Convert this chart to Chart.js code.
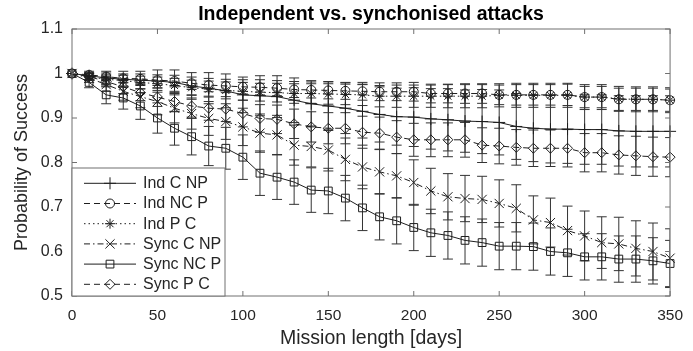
<!DOCTYPE html>
<html>
<head>
<meta charset="utf-8">
<script src="https://cdn.jsdelivr.net/npm/chart.js@4.4.1/dist/chart.umd.min.js"></script>
<style>
  html, body { margin: 0; padding: 0; background: #fff; }
  #wrap { width: 693px; height: 351px; }
</style>
</head>
<body>
<div id="wrap"><canvas id="chart" width="693" height="351"></canvas></div>
<script>
// mission length [days], one sample every 10 days
const days = [0, 10, 20, 30, 40, 50, 60, 70, 80, 90, 100, 110, 120, 130, 140, 150, 160, 170,
              180, 190, 200, 210, 220, 230, 240, 250, 260, 270, 280, 290, 300, 310, 320, 330, 340, 350];

const xTicks = [0, 50, 100, 150, 200, 250, 300, 350];
const yTicks = [0.5, 0.6, 0.7, 0.8, 0.9, 1.0, 1.1];

// probability of success
const indCNP = [1.000, 0.995, 0.990, 0.987, 0.985, 0.983, 0.980, 0.972, 0.967, 0.961, 0.952, 0.950,
                0.948, 0.940, 0.932, 0.927, 0.922, 0.915, 0.908, 0.903, 0.902, 0.898, 0.896, 0.893,
                0.892, 0.890, 0.881, 0.877, 0.875, 0.875, 0.874, 0.874, 0.871, 0.870, 0.870, 0.870];
const indNCP = [1.000, 0.997, 0.993, 0.989, 0.988, 0.985, 0.983, 0.978, 0.974, 0.972, 0.970, 0.969,
                0.967, 0.964, 0.963, 0.962, 0.961, 0.960, 0.959, 0.959, 0.959, 0.955, 0.955, 0.955,
                0.955, 0.952, 0.952, 0.952, 0.952, 0.952, 0.947, 0.947, 0.942, 0.942, 0.942, 0.940];
const indPC = [1.000, 0.993, 0.987, 0.984, 0.980, 0.977, 0.973, 0.968, 0.965, 0.962, 0.960, 0.958,
               0.957, 0.955, 0.955, 0.954, 0.953, 0.952, 0.949, 0.949, 0.949, 0.949, 0.949, 0.949,
               0.949, 0.951, 0.951, 0.951, 0.951, 0.951, 0.947, 0.947, 0.943, 0.942, 0.942, 0.940];
const syncCNP = [1.000, 0.990, 0.975, 0.960, 0.948, 0.937, 0.922, 0.910, 0.899, 0.892, 0.880, 0.866,
                 0.862, 0.839, 0.836, 0.828, 0.807, 0.790, 0.779, 0.770, 0.755, 0.736, 0.723, 0.719,
                 0.717, 0.708, 0.697, 0.671, 0.665, 0.647, 0.635, 0.620, 0.617, 0.607, 0.600, 0.585];
const syncNCP = [1.000, 0.980, 0.952, 0.945, 0.927, 0.900, 0.877, 0.858, 0.837, 0.832, 0.812, 0.776,
                 0.767, 0.756, 0.738, 0.736, 0.720, 0.698, 0.678, 0.669, 0.654, 0.642, 0.636, 0.625,
                 0.620, 0.612, 0.612, 0.611, 0.600, 0.597, 0.588, 0.588, 0.583, 0.583, 0.579, 0.573];
const syncPC = [1.000, 0.993, 0.982, 0.970, 0.957, 0.947, 0.937, 0.927, 0.922, 0.920, 0.910, 0.899,
                0.897, 0.887, 0.880, 0.877, 0.877, 0.868, 0.866, 0.857, 0.851, 0.851, 0.851, 0.851,
                0.839, 0.837, 0.834, 0.832, 0.832, 0.832, 0.822, 0.822, 0.817, 0.815, 0.813, 0.812];

// error bar half widths
const errIndCNP = [0, .010, .015, .018, .020, .025, .028, .030, .035, .038, .040, .045, .047, .050, .052, .055, .057, .060,
                   .062, .064, .066, .068, .070, .070, .072, .073, .074, .075, .076, .077, .078, .078, .079, .080, .080, .080];
const errIndNCP = [0, .005, .008, .010, .011, .012, .013, .014, .015, .015, .016, .017, .017, .018, .018, .019, .019, .020,
                   .020, .020, .021, .021, .021, .022, .022, .022, .023, .023, .023, .024, .024, .024, .025, .025, .025, .025];
const errIndPC = [0, .007, .010, .012, .014, .015, .016, .017, .018, .019, .020, .020, .021, .022, .022, .023, .023, .024,
                  .024, .025, .025, .025, .026, .026, .026, .026, .027, .027, .027, .027, .028, .028, .028, .028, .028, .028];
const errSyncCNP = [0, .010, .015, .020, .025, .030, .033, .035, .038, .040, .042, .043, .044, .045, .046, .047, .048, .049,
                    .050, .050, .051, .051, .052, .052, .052, .053, .053, .054, .055, .055, .056, .058, .060, .062, .064, .066];
const errSyncNCP = [0, .012, .020, .025, .030, .034, .038, .041, .044, .047, .050, .050, .050, .050, .050, .051, .051, .051,
                    .052, .052, .052, .053, .053, .053, .053, .053, .053, .053, .053, .053, .052, .052, .052, .052, .052, .052];
const errSyncPC = [0, .008, .012, .015, .018, .021, .023, .025, .027, .028, .030, .031, .032, .033, .034, .035, .035, .036,
                   .036, .037, .037, .038, .038, .039, .039, .040, .040, .041, .041, .042, .043, .043, .043, .044, .044, .044];

const FONT = "'Liberation Sans', Arial, Helvetica, sans-serif";
const INK = '#1e1e1e';
const AXIS = '#707070';
const CAP = 5;

function series(label, values, err, style, radius, dash) {
  return {
    label: label,
    data: days.map((d, i) => ({ x: d, y: values[i] })),
    err: err,
    borderColor: INK,
    backgroundColor: 'rgba(0,0,0,0)',
    pointBorderColor: INK,
    pointBackgroundColor: 'rgba(0,0,0,0)',
    borderWidth: 1,
    pointBorderWidth: 1,
    pointStyle: style,
    pointRadius: radius,
    borderDash: dash,
    tension: 0,
    fill: false,
    clip: false
  };
}

// small marker painter for the legend, same geometry as Chart.js point styles
function marker(ctx, style, x, y, r) {
  const d = r * Math.SQRT1_2;
  ctx.beginPath();
  if (style === 'circle') {
    ctx.arc(x, y, r, 0, Math.PI * 2);
  } else if (style === 'rect') {
    ctx.rect(x - d, y - d, 2 * d, 2 * d);
  } else if (style === 'rectRot') {
    ctx.moveTo(x, y - r); ctx.lineTo(x + r, y); ctx.lineTo(x, y + r); ctx.lineTo(x - r, y); ctx.closePath();
  } else {
    if (style === 'cross' || style === 'star') {
      ctx.moveTo(x, y - r); ctx.lineTo(x, y + r);
      ctx.moveTo(x - r, y); ctx.lineTo(x + r, y);
    }
    if (style === 'crossRot' || style === 'star') {
      ctx.moveTo(x - d, y - d); ctx.lineTo(x + d, y + d);
      ctx.moveTo(x + d, y - d); ctx.lineTo(x - d, y + d);
    }
  }
  ctx.stroke();
}

const decor = {
  id: 'decor',
  beforeDatasetsDraw(chart) {
    const { ctx, chartArea: a, scales: { x, y } } = chart;
    ctx.save();
    ctx.beginPath();
    ctx.rect(a.left, a.top, a.right - a.left, a.bottom - a.top);
    ctx.clip();
    ctx.strokeStyle = '#333';
    ctx.lineWidth = 1;
    chart.data.datasets.forEach(ds => {
      ds.data.forEach((p, j) => {
        const e = ds.err[j];
        if (!e) return;
        const px = x.getPixelForValue(p.x);
        const t = y.getPixelForValue(p.y + e);
        const b = y.getPixelForValue(p.y - e);
        ctx.beginPath();
        ctx.moveTo(px, t); ctx.lineTo(px, b);
        ctx.moveTo(px - CAP, t); ctx.lineTo(px + CAP, t);
        ctx.moveTo(px - CAP, b); ctx.lineTo(px + CAP, b);
        ctx.stroke();
      });
    });
    ctx.restore();
  },
  afterDatasetsDraw(chart) {
    const { ctx, chartArea: a, scales: { x, y } } = chart;
    ctx.save();
    // axes box with inward ticks
    ctx.strokeStyle = AXIS;
    ctx.lineWidth = 1;
    ctx.strokeRect(a.left, a.top, a.right - a.left, a.bottom - a.top);
    ctx.beginPath();
    x.ticks.forEach(t => {
      const px = x.getPixelForValue(t.value);
      ctx.moveTo(px, a.bottom); ctx.lineTo(px, a.bottom - 5);
      ctx.moveTo(px, a.top); ctx.lineTo(px, a.top + 5);
    });
    y.ticks.forEach(t => {
      const py = y.getPixelForValue(t.value);
      ctx.moveTo(a.left, py); ctx.lineTo(a.left + 5, py);
      ctx.moveTo(a.right, py); ctx.lineTo(a.right - 5, py);
    });
    ctx.stroke();

    // legend, bottom left inside the axes
    const lx = a.left, ly = 168, lw = 153, lh = a.bottom - 168;
    ctx.fillStyle = '#fff';
    ctx.fillRect(lx, ly, lw, lh);
    ctx.strokeStyle = AXIS;
    ctx.strokeRect(lx, ly, lw, lh);
    ctx.font = '16px ' + FONT;
    ctx.textBaseline = 'middle';
    chart.data.datasets.forEach((ds, i) => {
      const ry = 183.3 + i * 20.2;
      ctx.strokeStyle = INK;
      ctx.lineWidth = 1;
      ctx.setLineDash(ds.borderDash);
      ctx.beginPath();
      ctx.moveTo(84, ry); ctx.lineTo(136, ry);
      ctx.stroke();
      ctx.setLineDash([]);
      marker(ctx, ds.pointStyle, 110, ry, ds.pointRadius);
      ctx.fillStyle = '#262626';
      ctx.fillText(ds.label, 143, ry + 0.5);
    });
    ctx.restore();
  }
};

new Chart(document.getElementById('chart'), {
  type: 'line',
  data: {
    datasets: [
      series('Ind C NP', indCNP, errIndCNP, 'cross', 6, []),
      series('Ind NC P', indNCP, errIndNCP, 'circle', 4.5, [6, 4]),
      series('Ind P C', indPC, errIndPC, 'star', 5, [1.5, 3]),
      series('Sync C NP', syncCNP, errSyncCNP, 'crossRot', 6.5, [6, 3, 1.5, 3]),
      series('Sync NC P', syncNCP, errSyncNCP, 'rect', 5.5, []),
      series('Sync P C', syncPC, errSyncPC, 'rectRot', 5, [6, 4])
    ]
  },
  options: {
    responsive: false,
    animation: false,
    devicePixelRatio: 1,
    layout: { padding: { left: 0, right: 21, top: 0, bottom: 0 } },
    plugins: {
      legend: { display: false },
      tooltip: { enabled: false },
      title: {
        display: true,
        fullSize: false,
        text: 'Independent vs. synchonised attacks',
        color: '#000',
        font: { family: FONT, size: 19.5, weight: 'bold', lineHeight: 1.2 },
        padding: { top: 2.5, bottom: 3.1 }
      }
    },
    scales: {
      x: {
        type: 'linear',
        min: 0,
        max: 350,
        afterBuildTicks: s => { s.ticks = xTicks.map(v => ({ value: v })); },
        afterFit: s => { s.height = 55; },
        grid: { display: false, drawTicks: false },
        border: { display: false },
        ticks: { color: '#262626', padding: 10, maxRotation: 0, font: { family: FONT, size: 15.5 } },
        title: {
          display: true, text: 'Mission length [days]', color: '#262626',
          font: { family: FONT, size: 19.5, lineHeight: 1.2 }, padding: { top: 0, bottom: 0.5 }
        }
      },
      y: {
        min: 0.5,
        max: 1.1,
        afterBuildTicks: s => { s.ticks = yTicks.map(v => ({ value: v })); },
        afterFit: s => { s.width = 72; },
        grid: { display: false, drawTicks: false },
        border: { display: false },
        ticks: {
          color: '#262626', padding: 9, font: { family: FONT, size: 16 },
          callback: v => String(parseFloat(v.toFixed(2)))
        },
        title: {
          display: true, text: 'Probability of Success', color: '#262626',
          font: { family: FONT, size: 18, lineHeight: 1.2 }, padding: { top: 11, bottom: 0 }
        }
      }
    }
  },
  plugins: [decor]
});
</script>
</body>
</html>
